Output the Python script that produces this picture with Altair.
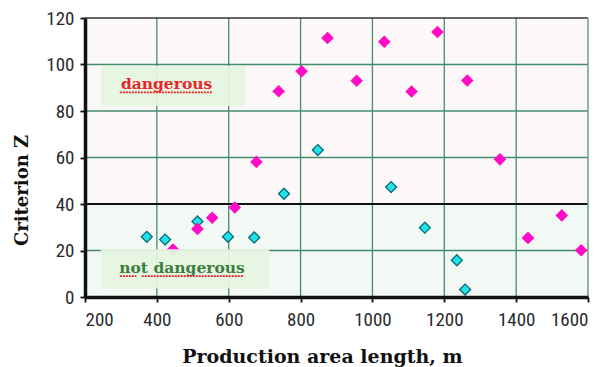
import altair as alt
import pandas as pd

# ---- data ----
pink_x = [875, 1181, 1033, 803, 739, 956, 1109, 1264, 677, 1355, 617, 554, 513, 445, 1527, 1433, 1581]
pink_y = [111.4, 114.0, 109.8, 97.1, 88.5, 93.0, 88.4, 93.1, 58.1, 59.2, 38.5, 34.1, 29.3, 20.4, 35.1, 25.4, 20.1]
cyan_x = [848, 754, 1052, 1146, 1235, 1258, 372, 423, 513, 598, 671]
cyan_y = [63.2, 44.4, 47.3, 29.8, 15.8, 3.2, 25.9, 24.7, 32.5, 25.9, 25.6]
x_ticks = [200, 400, 600, 800, 1000, 1200, 1400, 1600]
y_ticks = [0, 20, 40, 60, 80, 100, 120]
threshold = [40]
zones = ["dangerous", "not dangerous"]

W, H = 503, 279
xs = alt.Scale(domain=[200, 1600], nice=False, zero=False)
ys = alt.Scale(domain=[0, 120], nice=False)

LABEL_FONT = "Liberation Sans Narrow, Roboto Condensed, Liberation Sans, Arial"
TITLE_FONT = "DejaVu Serif"
GRID = "#438c70"

bg = pd.DataFrame({"y": [40, 0], "y2": [120, 40], "c": ["#fcf7f8", "#f2f9f5"]})
bg_layer = alt.Chart(bg).mark_rect().encode(
    x=alt.value(0), x2=alt.value(W),
    y=alt.Y("y:Q", scale=ys, axis=alt.Axis(
        values=y_ticks, title="Criterion Z", grid=False, format="d",
        domainColor="#111", domainWidth=3.5, tickColor="#111", tickWidth=1.8, tickSize=5,
        labelFont=LABEL_FONT, labelFontSize=19, labelColor="#2a2a2a", labelPadding=6,
        titleFont=TITLE_FONT, titleFontSize=18, titleFontWeight="bold", titleColor="#111",
        titleX=-58, titleY=172, titleAlign="center", titleBaseline="alphabetic", titleAngle=-90,
        zindex=1)),
    y2="y2:Q",
    fill=alt.Fill("c:N", scale=None),
)

xg = pd.DataFrame({"x": x_ticks[1:-1]})
vgrid = alt.Chart(xg).mark_rule(color=GRID, strokeWidth=1.3).encode(
    x=alt.X("x:Q", scale=xs, axis=alt.Axis(
        values=x_ticks, title="Production area length, m", grid=False, format="d",
        domainColor="#111", domainWidth=3.5, tickColor="#111", tickWidth=1.8, tickSize=5,
        labelFont=LABEL_FONT, labelFontSize=19, labelColor="#2a2a2a", labelPadding=8,
        titleFont=TITLE_FONT, titleFontSize=19, titleFontWeight="bold", titleColor="#111",
        titleX=237, titleY=65, titleAlign="center", titleBaseline="alphabetic",
        zindex=1)),
    y=alt.value(0), y2=alt.value(H),
)

yg = pd.DataFrame({"y": [v for v in y_ticks[1:-1] if v not in threshold]})
hgrid = alt.Chart(yg).mark_rule(color=GRID, strokeWidth=1.3).encode(
    y=alt.Y("y:Q", scale=ys), x=alt.value(0), x2=alt.value(W),
)

thr = alt.Chart(pd.DataFrame({"y": threshold})).mark_rule(color="#111", strokeWidth=2).encode(
    y=alt.Y("y:Q", scale=ys), x=alt.value(0), x2=alt.value(W),
)

top = alt.Chart(pd.DataFrame({"y": [120]})).mark_rule(color="#333", strokeWidth=1.5).encode(
    y=alt.Y("y:Q", scale=ys), x=alt.value(0), x2=alt.value(W),
)
right = alt.Chart(pd.DataFrame({"x": [1600]})).mark_rule(color="#6f9a8a", strokeWidth=1.5).encode(
    x=alt.X("x:Q", scale=xs), y=alt.value(0), y2=alt.value(H),
)

cyan = alt.Chart(pd.DataFrame({"x": cyan_x, "y": cyan_y})).mark_point(
    shape="diamond", filled=True, fill="#1fe3e8", stroke="#0c6b78", strokeWidth=1.3,
    size=120, opacity=1,
).encode(x=alt.X("x:Q", scale=xs), y=alt.Y("y:Q", scale=ys))

pink = alt.Chart(pd.DataFrame({"x": pink_x, "y": pink_y})).mark_point(
    shape="diamond", filled=True, color="#ff0cc6", size=160, opacity=1,
).encode(x=alt.X("x:Q", scale=xs), y=alt.Y("y:Q", scale=ys))

boxes = pd.DataFrame({"zone": zones, "x": [244, 244], "x2": [647, 713], "y": [82.2, 3.7], "y2": [99.4, 20.5]})
box_layer = alt.Chart(boxes).mark_rect(fill="#e6f4e1", opacity=0.95).encode(
    x=alt.X("x:Q", scale=xs), x2="x2:Q", y=alt.Y("y:Q", scale=ys), y2="y2:Q",
)

labels = pd.DataFrame({"zone": zones, "x": [427, 470], "y": [89.3, 10.4], "c": ["#e8262a", "#3d7d3d"]})
text_layer = alt.Chart(labels).mark_text(
    font=TITLE_FONT, fontSize=15.5, fontWeight="bold", align="center", baseline="alphabetic",
).encode(
    x=alt.X("x:Q", scale=xs), y=alt.Y("y:Q", scale=ys), text="zone:N",
    color=alt.Color("c:N", scale=None),
)

ul = pd.DataFrame({"x": [297, 297, 358], "x2": [556, 343, 643], "y": [88.0, 9.0, 9.0]})
ul_layer = alt.Chart(ul).mark_rule(color="#e82020", strokeWidth=1.6, strokeDash=[2, 1]).encode(
    x=alt.X("x:Q", scale=xs), x2="x2:Q", y=alt.Y("y:Q", scale=ys),
)

chart = alt.layer(
    bg_layer, vgrid, hgrid, thr, top, right, cyan, pink, box_layer, text_layer, ul_layer
).properties(
    width=W, height=H,
    autosize=alt.AutoSizeParams(type="none"),
    padding={"left": 77, "top": 10, "right": 13, "bottom": 70},
    background="white",
).configure_view(stroke=None)

chart.save("out.html", embed_options={"renderer": "svg", "actions": False})
